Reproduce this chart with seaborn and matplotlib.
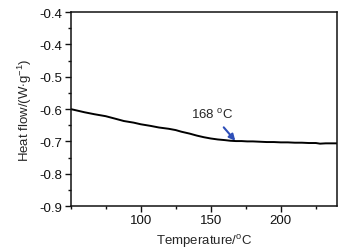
import pandas as pd
import seaborn as sns
import matplotlib.pyplot as plt
import numpy as np
from matplotlib.ticker import MultipleLocator

# Data
temperature = [50, 55, 60, 67, 75, 82, 88, 95, 100, 107, 113, 120, 125, 129, 135, 140,
               145, 150, 155, 160, 164, 168, 172, 176, 180, 185, 190, 195, 200, 205,
               210, 215, 220, 225, 228, 232, 236, 240]
heat_flow = [-0.600, -0.605, -0.610, -0.616, -0.622, -0.630, -0.637, -0.642, -0.647,
             -0.652, -0.657, -0.661, -0.665, -0.670, -0.676, -0.682, -0.687, -0.691,
             -0.694, -0.696, -0.698, -0.699, -0.699, -0.700, -0.700, -0.701, -0.702,
             -0.702, -0.703, -0.703, -0.704, -0.704, -0.705, -0.705, -0.707, -0.706,
             -0.706, -0.706]
y_ticks = [-0.9, -0.8, -0.7, -0.6, -0.5, -0.4, -0.3]
y_ticklabels = ['-0.9', '-0.8', '-0.7', '-0.6', '-0.5', '-0.4', '-0.4']
x_ticks = [100, 150, 200]

df = pd.DataFrame({"T": temperature, "HF": heat_flow})

sns.set_style("ticks")
plt.rcParams['font.family'] = ['Liberation Sans', 'DejaVu Sans']
plt.rcParams['mathtext.fontset'] = 'custom'
plt.rcParams['mathtext.rm'] = 'Liberation Sans'
plt.rcParams['mathtext.it'] = 'Liberation Sans'

fs = 9.5
fig = plt.figure(figsize=(3.48, 2.51), dpi=100)
ax = fig.add_axes([0.203, 0.175, 0.765, 0.773])
sns.lineplot(data=df, x="T", y="HF", color="black", linewidth=1.4, ax=ax)

ax.set_xlim(50, 240)
ax.set_ylim(-0.9, -0.3)
ax.set_xticks(x_ticks)
ax.xaxis.set_minor_locator(MultipleLocator(25))
ax.set_yticks(y_ticks)
ax.set_yticklabels(y_ticklabels)
ax.yaxis.set_minor_locator(MultipleLocator(0.05))
ax.tick_params(which='major', direction='out', length=4, width=1, labelsize=fs, pad=2, colors='#111111')
ax.tick_params(which='minor', direction='out', length=2.5, width=1, colors='#111111')
for s in ax.spines.values():
    s.set_linewidth(1.1)
    s.set_color('#111111')

ax.set_xlabel("Temperature/$^{\\rm o}$C", fontsize=fs, labelpad=4)
ax.set_ylabel("Heat flow/(W$\\cdot$g$^{-1}$)", fontsize=fs, labelpad=4)

ax.annotate("168 $^{\\rm o}$C", xy=(167.5, -0.698), xytext=(151, -0.615),
            ha='center', va='center', fontsize=fs,
            arrowprops=dict(arrowstyle='-|>', color='#2e4fb8', lw=1.5,
                            shrinkA=3, shrinkB=0, mutation_scale=9))

fig.savefig("out.png", dpi=100)
